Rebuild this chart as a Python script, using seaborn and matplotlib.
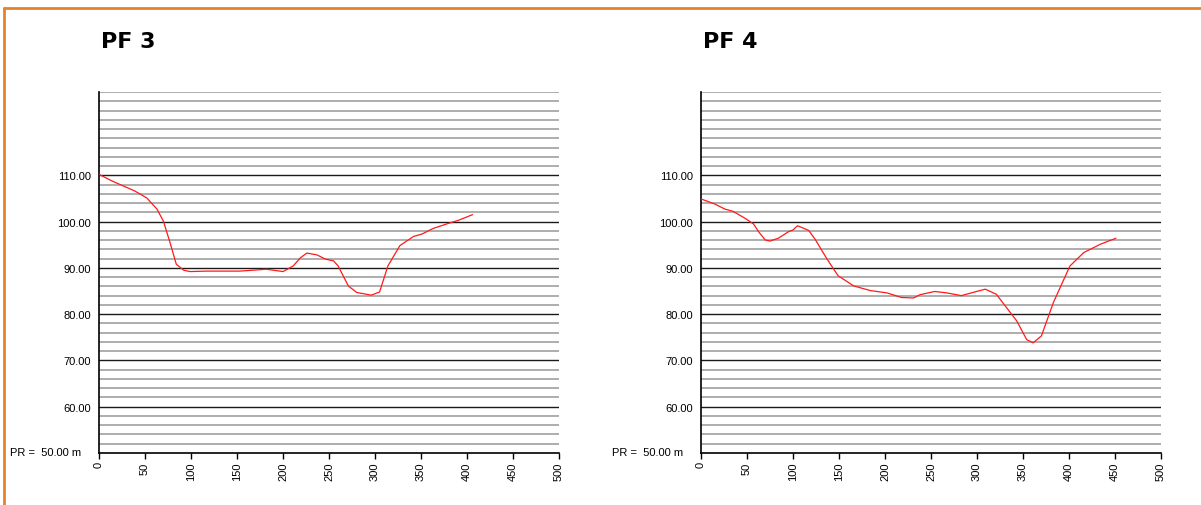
import matplotlib
matplotlib.use("Agg")
import matplotlib.pyplot as plt
from matplotlib.lines import Line2D
import seaborn as sns
import pandas as pd

# Profile PF 3: distance (m) and elevation
pf3_dist = [0, 15, 39, 52, 63, 70, 77, 84, 92, 99, 117, 153, 182, 200, 211, 219, 226,
            237, 246, 255, 260, 271, 280, 296, 305, 314, 327, 342, 351, 363, 378, 391, 406]
pf3_elev = [110.2, 108.7, 106.6, 105.1, 102.7, 100.1, 95.6, 90.8, 89.5, 89.2, 89.3, 89.3,
            89.7, 89.2, 90.4, 92.2, 93.2, 92.8, 91.9, 91.5, 90.4, 86.1, 84.7, 84.1, 84.8,
            90.4, 94.8, 96.8, 97.3, 98.5, 99.5, 100.3, 101.5]

# Profile PF 4: distance (m) and elevation
pf4_dist = [0, 15, 26, 35, 48, 57, 63, 70, 75, 84, 95, 100, 105, 117, 124, 137, 149, 166,
            184, 202, 218, 231, 238, 254, 267, 283, 294, 309, 321, 336, 343, 354, 361, 370,
            383, 401, 416, 434, 451]
pf4_elev = [104.9, 103.8, 102.7, 102.2, 100.7, 99.5, 97.7, 96.0, 95.8, 96.4, 97.8, 98.2,
            99.1, 98.1, 96.2, 91.9, 88.3, 86.1, 85.1, 84.6, 83.6, 83.5, 84.2, 84.9, 84.6,
            84.0, 84.6, 85.4, 84.3, 80.4, 78.6, 74.5, 73.8, 75.3, 82.5, 90.4, 93.3, 95.1,
            96.4]

titles = ["PF 3", "PF 4"]
x_ticks = [0, 50, 100, 150, 200, 250, 300, 350, 400, 450, 500]
y_labels = [60, 70, 80, 90, 100, 110]
reference_level = 50.0
y_top = 128
grid_step = 2

sns.set_theme(style="white")
plt.rcParams["font.family"] = ["Liberation Sans", "DejaVu Sans"]
plt.rcParams["text.color"] = "black"
plt.rcParams["xtick.color"] = "black"
plt.rcParams["ytick.color"] = "black"

W, H = 1201, 506
fig = plt.figure(figsize=(W / 100, H / 100), dpi=100)

# orange frame (top and left edges)
fig.add_artist(Line2D([4 / W, 1.0], [1 - 9 / H, 1 - 9 / H], transform=fig.transFigure,
                      color="#E8822A", lw=2))
fig.add_artist(Line2D([4 / W, 4 / W], [0, 1 - 9 / H], transform=fig.transFigure,
                      color="#E8822A", lw=2))

profiles = [(pf3_dist, pf3_elev), (pf4_dist, pf4_elev)]
lefts = [99, 701]
ax_w = 460
ax_bottom, ax_top = 454, 93

for (dist, elev), title, left in zip(profiles, titles, lefts):
    ax = fig.add_axes([left / W, 1 - ax_bottom / H, ax_w / W, (ax_bottom - ax_top) / H])
    ax.set_xlim(0, 500)
    ax.set_ylim(reference_level, y_top)

    # horizontal elevation grid
    level = reference_level + grid_step
    while level <= y_top:
        if level in y_labels:
            ax.axhline(level, color="#1a1a1a", lw=1.0, zorder=1)
        else:
            ax.axhline(level, color="#a0a0a0", lw=1.2, zorder=1)
        level += grid_step

    df = pd.DataFrame({"dist": dist, "elev": elev})
    sns.lineplot(data=df, x="dist", y="elev", ax=ax, color="#ff1a1a", lw=0.9,
                 sort=False, zorder=3)

    ax.set_xlabel("")
    ax.set_ylabel("")
    ax.set_xticks(x_ticks)
    ax.set_xticklabels([str(t) for t in x_ticks], rotation=90, fontsize=8)
    ax.set_yticks(y_labels)
    ax.set_yticklabels([f"{v:.2f}" for v in y_labels], fontsize=8)
    ax.tick_params(axis="x", length=4, width=1, colors="black", pad=2, direction="out",
                   bottom=True)
    ax.tick_params(axis="y", length=0, pad=6, left=False, colors="black")

    for side in ["top", "right"]:
        ax.spines[side].set_visible(False)
    for side in ["left", "bottom"]:
        ax.spines[side].set_visible(True)
        ax.spines[side].set_color("black")
        ax.spines[side].set_linewidth(1.2)

    ax.annotate(f"PR =  {reference_level:.2f} m", xy=(0, reference_level),
                xycoords="data", xytext=(-18, 1), textcoords="offset pixels",
                ha="right", va="center", fontsize=8, color="black",
                annotation_clip=False)

    fig.text((left + 2) / W, 1 - 42 / H, title, ha="left", va="center",
             fontsize=16, fontweight="heavy", family="DejaVu Sans", color="black")

fig.savefig("out.png", dpi=100, facecolor="white")
